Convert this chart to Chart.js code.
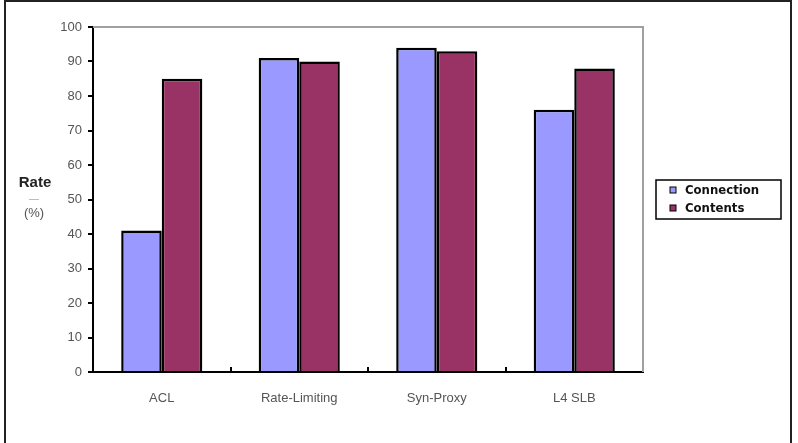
<!DOCTYPE html>
<html>
<head>
<meta charset="utf-8">
<script src="https://cdn.jsdelivr.net/npm/chart.js@4/dist/chart.umd.min.js"></script>
<style>
  html, body { margin: 0; padding: 0; background: #fff; }
  #wrap { width: 798px; height: 443px; position: relative; }
</style>
</head>
<body>
<div id="wrap"><canvas id="rateChart" width="798" height="443"></canvas></div>
<script>
const categories = ['ACL', 'Rate-Limiting', 'Syn-Proxy', 'L4 SLB'];
const connection = [41, 91, 94, 76];
const contents = [85, 90, 93, 88];
const seriesNames = ['Connection', 'Contents'];
const seriesColors = ['#9999ff', '#993366'];

const tickFont = { family: "'Liberation Sans', Arial, sans-serif", size: 13 };

// frame of the picture, gray plot frame, axis title, legend, boundary ticks
const decor = {
    id: 'decor',
    beforeDraw(chart) {
        const c = chart.ctx;
        c.save();
        c.fillStyle = '#fff';
        c.fillRect(0, 0, chart.width, chart.height);
        c.restore();
    },
    afterDraw(chart) {
        const c = chart.ctx;
        const a = chart.chartArea;
        c.save();

        // outer border
        c.strokeStyle = '#222';
        c.lineWidth = 2;
        c.strokeRect(5, 1, 786, 450);

        // gray top and right of plot area
        c.strokeStyle = '#a0a0a0';
        c.lineWidth = 2;
        c.beginPath();
        c.moveTo(a.left, a.top);
        c.lineTo(a.right, a.top);
        c.lineTo(a.right, a.bottom);
        c.stroke();

        // category boundary ticks on x axis
        const xs = chart.scales.x;
        const step = xs.getPixelForValue(1) - xs.getPixelForValue(0);
        c.strokeStyle = '#000';
        c.lineWidth = 2;
        for (let i = 1; i < categories.length; i++) {
            const px = Math.round(xs.getPixelForValue(i) - step / 2);
            c.beginPath();
            c.moveTo(px, a.bottom);
            c.lineTo(px, a.bottom - 5);
            c.stroke();
        }

        // y axis title
        c.textAlign = 'center';
        c.textBaseline = 'middle';
        c.fillStyle = '#222';
        c.font = "bold 15px 'Liberation Sans Narrow', 'Liberation Sans', sans-serif";
        c.fillText('Rate', 35, 183);
        c.fillStyle = '#aaa';
        c.font = "10px 'Liberation Sans', sans-serif";
        c.fillText('\u2014', 34, 199);
        c.fillStyle = '#555';
        c.font = "13px 'Liberation Sans', sans-serif";
        c.fillText('(%)', 34, 213);

        // legend
        c.strokeStyle = '#000';
        c.lineWidth = 1.5;
        c.strokeRect(656, 180, 125, 39);
        c.textAlign = 'left';
        c.font = "bold 13px 'DejaVu Sans Condensed', 'DejaVu Sans', sans-serif";
        seriesNames.forEach((name, i) => {
            const y = 190 + i * 18;
            c.fillStyle = seriesColors[i];
            c.fillRect(670, y - 3, 6, 6);
            c.strokeStyle = '#000';
            c.lineWidth = 1;
            c.strokeRect(670, y - 3, 6, 6);
            c.fillStyle = '#111';
            c.fillText(name, 685, y + 1);
        });

        c.restore();
    }
};

new Chart(document.getElementById('rateChart').getContext('2d'), {
    type: 'bar',
    data: {
        labels: categories,
        datasets: [
            { label: seriesNames[0], data: connection, backgroundColor: seriesColors[0], borderColor: '#000', borderWidth: 2.5 },
            { label: seriesNames[1], data: contents, backgroundColor: seriesColors[1], borderColor: '#000', borderWidth: 2.5 }
        ]
    },
    options: {
        responsive: false,
        animation: false,
        layout: { padding: { left: 0, right: 155, top: 27, bottom: 0 } },
        datasets: { bar: { categoryPercentage: 0.59, barPercentage: 1 } },
        plugins: { legend: { display: false }, tooltip: { enabled: false } },
        scales: {
            x: {
                grid: { display: false },
                border: { color: '#000', width: 2 },
                ticks: { color: '#555', font: tickFont, padding: 11 },
                afterFit: s => { s.height = 71; }
            },
            y: {
                min: 0,
                max: 100,
                ticks: { stepSize: 10, color: '#555', font: tickFont, padding: 6 },
                grid: { drawOnChartArea: false, tickLength: 5, color: '#000', lineWidth: 2 },
                border: { color: '#000', width: 2 },
                afterFit: s => { s.width = 93; }
            }
        }
    },
    plugins: [decor]
});
</script>
</body>
</html>
